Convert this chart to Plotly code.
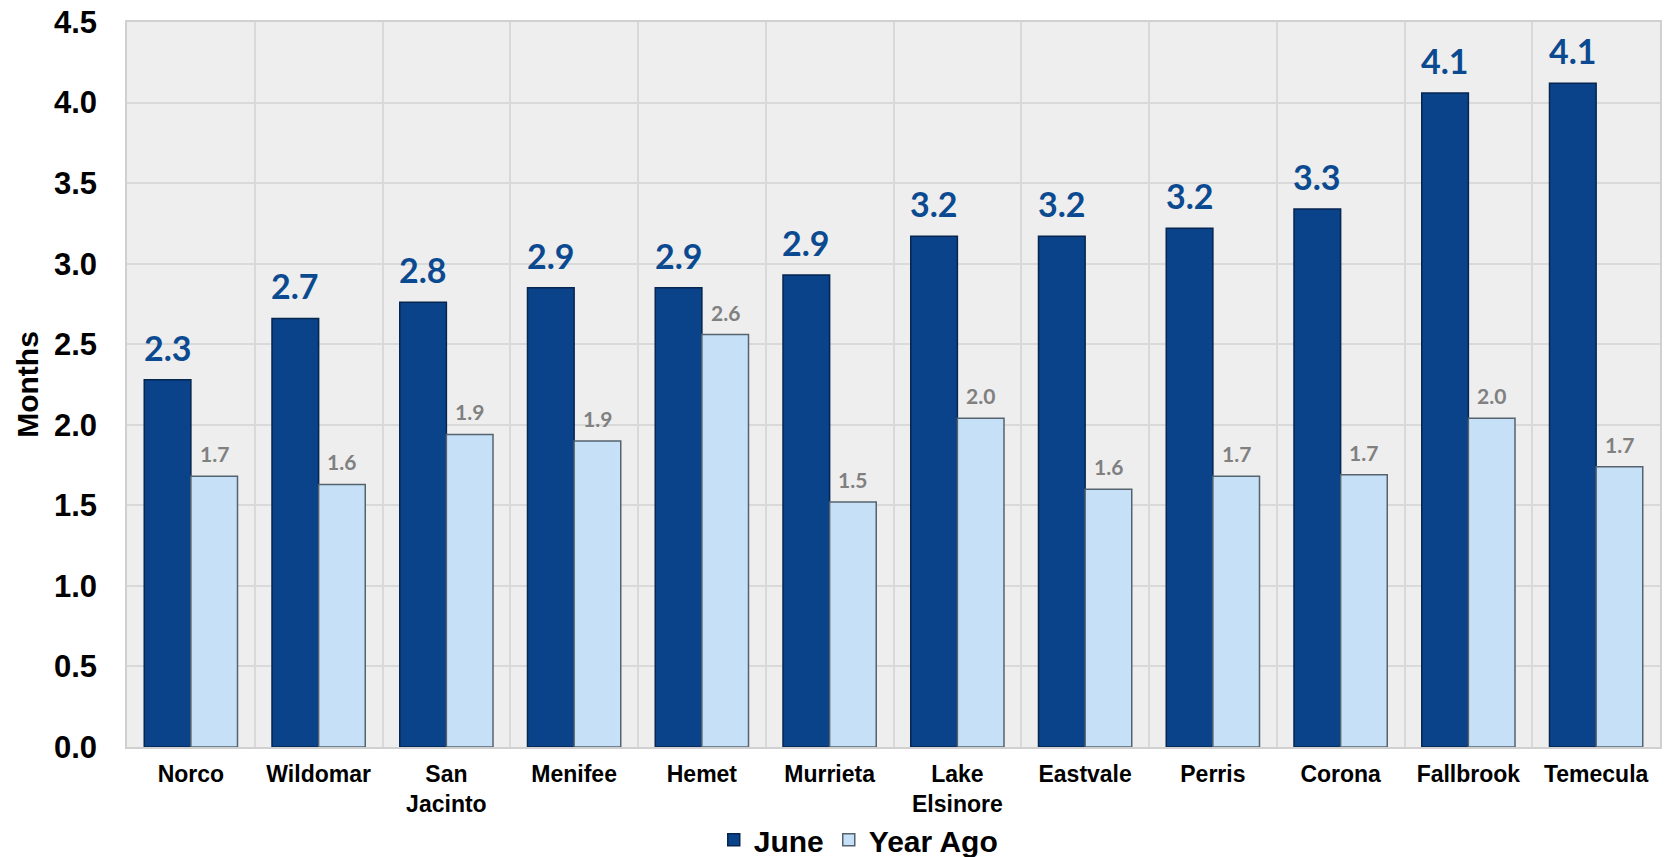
import plotly.graph_objects as go

cities = ["Norco", "Wildomar", "San<br>Jacinto", "Menifee", "Hemet", "Murrieta",
          "Lake<br>Elsinore", "Eastvale", "Perris", "Corona", "Fallbrook", "Temecula"]
june = [2.28, 2.66, 2.76, 2.85, 2.85, 2.93, 3.17, 3.17, 3.22, 3.34, 4.06, 4.12]
year_ago = [1.68, 1.63, 1.94, 1.90, 2.56, 1.52, 2.04, 1.60, 1.68, 1.69, 2.04, 1.74]

JUNE_COLOR = "#0a4389"
YA_COLOR = "#c6e0f7"
LABEL_FONT = "Lato, Open Sans, sans-serif"
AXIS_FONT = "Liberation Sans, Arial, sans-serif"

fig = go.Figure()
fig.add_trace(go.Bar(
    name="June", x=cities, y=june,
    marker=dict(color=JUNE_COLOR, line=dict(color="#06254f", width=1.5)),
))
fig.add_trace(go.Bar(
    name="Year Ago", x=cities, y=year_ago,
    marker=dict(color=YA_COLOR, line=dict(color="#55636f", width=1.5)),
))

# data labels above each bar
cat_px = (1660 - 127) / len(cities)
bargap = 0.27
bar_px = cat_px * (1 - bargap) / 2
for c, j, ya in zip(cities, june, year_ago):
    fig.add_annotation(x=c, y=j, text=f"{j:.1f}", showarrow=False,
                       xshift=-bar_px / 2, yshift=10, yanchor="bottom",
                       font=dict(family=LABEL_FONT, size=34, color="#0b4a90", weight="bold"))
    fig.add_annotation(x=c, y=ya, text=f"{ya:.1f}", showarrow=False,
                       xshift=bar_px / 2, yshift=8, yanchor="bottom",
                       font=dict(family=LABEL_FONT, size=21, color="#808080", weight="bold"))

fig.update_layout(
    width=1665, height=857,
    margin=dict(l=127, r=5, t=22, b=110, autoexpand=False),
    paper_bgcolor="white",
    plot_bgcolor="#eeeeee",
    barmode="group",
    bargap=bargap,
    bargroupgap=0,
    showlegend=True,
    legend=dict(orientation="h",
                x=0.477, xanchor="center", y=-0.128, yanchor="middle",
                bgcolor="rgba(0,0,0,0)",
                font=dict(family=AXIS_FONT, size=30, color="black", weight="bold"),
                itemwidth=30, tracegroupgap=0),
    xaxis=dict(
        automargin=False,
        tickson="boundaries",
        showgrid=True, gridcolor="#d9d9d9", gridwidth=1.5,
        showline=True, linecolor="#d0d0d0", linewidth=1.5, mirror=True,
        ticks="", ticklabelstandoff=6,
        tickfont=dict(family=AXIS_FONT, size=23, color="black", weight="bold"),
    ),
    yaxis=dict(
        automargin=False,
        range=[0, 4.5], dtick=0.5, tick0=0, tickformat=".1f",
        showgrid=True, gridcolor="#d9d9d9", gridwidth=1.5,
        showline=True, linecolor="#d0d0d0", linewidth=1.5, mirror=True,
        zeroline=False,
        ticks="outside", ticklen=22, tickcolor="rgba(0,0,0,0)",
        tickfont=dict(family=AXIS_FONT, size=31, color="black", weight="bold"),
        title=dict(text="Months", standoff=6,
                   font=dict(family=AXIS_FONT, size=30, color="black", weight="bold")),
    ),
)

fig.write_html("out.html", post_script="document.body.style.margin='0';",
               config={"displayModeBar": False})
